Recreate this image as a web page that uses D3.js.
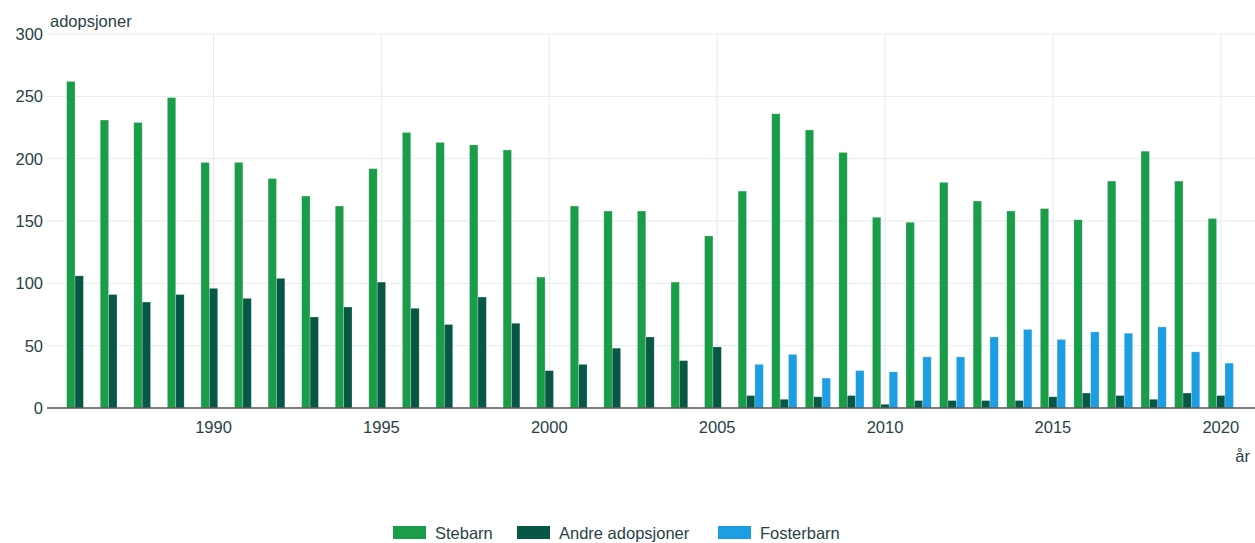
<!DOCTYPE html>
<html>
<head>
<meta charset="utf-8">
<script src="https://cdn.jsdelivr.net/npm/d3@7"></script>
<style>
  body { margin: 0; background: #fff; }
  text { font-family: "Liberation Sans", Arial, sans-serif; fill: #274247; }
</style>
</head>
<body>
<div id="chart"></div>
<script>
var years = d3.range(1986, 2021);
var stebarn = [262, 231, 229, 249, 197, 197, 184, 170, 162, 192,
               221, 213, 211, 207, 105, 162, 158, 158, 101, 138,
               174, 236, 223, 205, 153, 149, 181, 166, 158, 160,
               151, 182, 206, 182, 152];
var andre = [106, 91, 85, 91, 96, 88, 104, 73, 81, 101,
             80, 67, 89, 68, 30, 35, 48, 57, 38, 49,
             10, 7, 9, 10, 3, 6, 6, 6, 6, 9,
             12, 10, 7, 12, 10];
var fosterbarn = [null, null, null, null, null, null, null, null, null, null,
                  null, null, null, null, null, null, null, null, null, null,
                  35, 43, 24, 30, 29, 41, 41, 57, 63, 55,
                  61, 60, 65, 45, 36];
var seriesNames = ["Stebarn", "Andre adopsjoner", "Fosterbarn"];
var colors = ["#1a9d49", "#075745", "#1d9de2"];
var yTicks = [0, 50, 100, 150, 200, 250, 300];
var xTicks = [1990, 1995, 2000, 2005, 2010, 2015, 2020];

var W = 1255, H = 543;
var margin = {top: 34, right: 2, bottom: 135, left: 47};

var svg = d3.select("#chart").append("svg")
    .attr("width", W)
    .attr("height", H);

var x = d3.scaleLinear().domain([1985.04, 2020.96]).range([margin.left, W - margin.right]);
var y = d3.scaleLinear().domain([0, 300]).range([H - margin.bottom, margin.top]);

var bw = x(1986.25) - x(1986);

// grid
svg.append("g").selectAll("line").data(yTicks.slice(1)).enter().append("line")
    .attr("x1", margin.left).attr("x2", W)
    .attr("y1", function(d) { return y(d); }).attr("y2", function(d) { return y(d); })
    .attr("stroke", "#e6ebeb").attr("stroke-width", 1);
svg.append("g").selectAll("line").data(xTicks).enter().append("line")
    .attr("x1", function(d) { return x(d); }).attr("x2", function(d) { return x(d); })
    .attr("y1", y(300)).attr("y2", y(0))
    .attr("stroke", "#e6ebeb").attr("stroke-width", 1);

// bars
var all = [stebarn, andre, fosterbarn];
all.forEach(function(vals, s) {
  svg.append("g").selectAll("rect")
      .data(years.map(function(yr, i) { return {year: yr, v: vals[i]}; }).filter(function(d) { return d.v != null; }))
      .enter().append("rect")
      .attr("x", function(d) { return x(d.year) + (s - 1.5) * bw; })
      .attr("width", bw)
      .attr("y", function(d) { return y(d.v); })
      .attr("height", function(d) { return y(0) - y(d.v); })
      .attr("fill", colors[s])
      .attr("stroke", "#ffffff").attr("stroke-opacity", 0.4).attr("stroke-width", 0.6);
});

// y axis labels
svg.append("g").selectAll("text").data(yTicks).enter().append("text")
    .attr("x", margin.left - 4)
    .attr("y", function(d) { return y(d) + 6; })
    .attr("text-anchor", "end")
    .style("font-size", "16.5px")
    .text(function(d) { return d; });

// x axis
svg.append("line")
    .attr("x1", margin.left).attr("x2", W)
    .attr("y1", y(0)).attr("y2", y(0))
    .attr("stroke", "#555").attr("stroke-width", 1.5);
svg.append("g").selectAll("text").data(xTicks).enter().append("text")
    .attr("x", function(d) { return x(d); })
    .attr("y", y(0) + 25)
    .attr("text-anchor", "middle")
    .style("font-size", "16.5px")
    .text(function(d) { return d; });

svg.append("text").attr("x", 50).attr("y", 27)
    .style("font-size", "16.5px").text("adopsjoner");
svg.append("text").attr("x", 1250).attr("y", 462).attr("text-anchor", "end")
    .style("font-size", "16.5px").text("år");

// legend
var legendX = [393, 517, 718];
seriesNames.forEach(function(n, i) {
  svg.append("rect").attr("x", legendX[i]).attr("y", 526)
      .attr("width", 33).attr("height", 13).attr("fill", colors[i]);
  svg.append("text").attr("x", legendX[i] + 42).attr("y", 539)
      .style("font-size", "16.5px").text(n);
});
</script>
</body>
</html>
